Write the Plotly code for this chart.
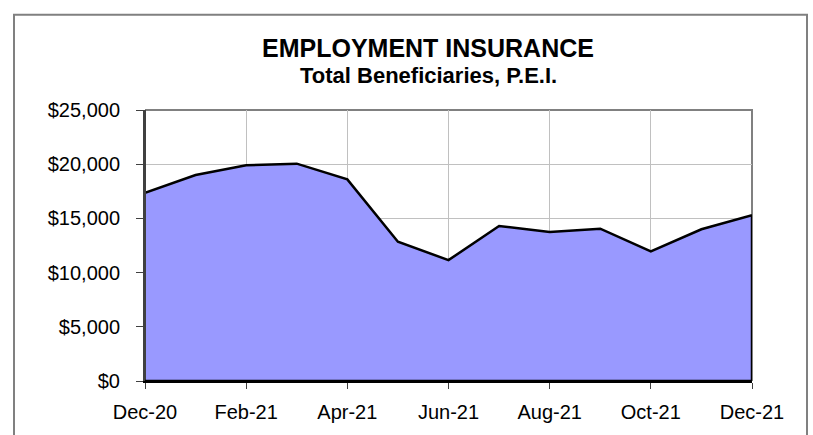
import plotly.graph_objects as go

months = ["Dec-20", "Jan-21", "Feb-21", "Mar-21", "Apr-21", "May-21", "Jun-21",
          "Jul-21", "Aug-21", "Sep-21", "Oct-21", "Nov-21", "Dec-21"]
beneficiaries = [17350, 19000, 19900, 20050, 18600, 12850, 11150,
                 14300, 13750, 14050, 11950, 14000, 15300]
y_ticks = [0, 5000, 10000, 15000, 20000, 25000]
y_tick_labels = ["$0", "$5,000", "$10,000", "$15,000", "$20,000", "$25,000"]

title_text = "EMPLOYMENT INSURANCE"
subtitle_text = "Total Beneficiaries, P.E.I."

xs = list(range(len(months)))
tick_idx = xs[::2]
tick_txt = [months[i] for i in tick_idx]

W, H = 813, 435
L, R, T, B = 145, 61, 110, 49
pw, ph = W - L - R, H - T - B


def px(x):
    return (x - L) / pw


def py(y):
    return (H - B - y) / ph


FONT = "Arial, Liberation Sans, sans-serif"

fig = go.Figure()
fig.add_trace(go.Scatter(
    x=xs, y=beneficiaries, mode="lines", fill="tozeroy",
    fillcolor="#9999FF", line=dict(color="black", width=2.5),
    hoverinfo="x+y", showlegend=False,
))
# closing right edge of the area, from the last data point down to zero
fig.add_trace(go.Scatter(
    x=[xs[-1], xs[-1]], y=[0, beneficiaries[-1]], mode="lines",
    line=dict(color="black", width=2.5), hoverinfo="skip", showlegend=False,
))

fig.update_layout(
    width=W, height=H,
    margin=dict(l=L, r=R, t=T, b=B),
    paper_bgcolor="white", plot_bgcolor="white",
    font=dict(family=FONT, color="black", size=20),
    showlegend=False,
    xaxis=dict(
        range=[0, len(months) - 1], tickmode="array",
        tickvals=tick_idx, ticktext=tick_txt,
        showgrid=True, gridcolor="#c0c0c0", gridwidth=1,
        showline=True, linecolor="black", linewidth=2,
        ticks="outside", ticklen=6, tickcolor="#404040", tickwidth=1,
        ticklabelstandoff=6, layer="above traces",
        zeroline=False, fixedrange=True,
        tickfont=dict(size=20, family=FONT, color="black"),
    ),
    yaxis=dict(
        range=[0, 25000], tickmode="array", tickvals=y_ticks,
        ticktext=y_tick_labels,
        showgrid=True, gridcolor="#c0c0c0", gridwidth=1,
        showline=True, linecolor="#404040", linewidth=2,
        ticks="outside", ticklen=7, tickcolor="#404040", tickwidth=1,
        ticklabelstandoff=12, layer="above traces",
        zeroline=False, fixedrange=True,
        tickfont=dict(size=20, family=FONT, color="black"),
    ),
    shapes=[
        # plot area frame: top & right edges in grey
        dict(type="path", xref="paper", yref="paper",
             path="M 0,1 L 1,1 L 1,0",
             line=dict(color="#808080", width=2), layer="between"),
        # left axis line drawn over the filled area
        dict(type="line", xref="paper", yref="paper", x0=0, x1=0, y0=0, y1=1,
             line=dict(color="#404040", width=2), layer="above"),
        # bottom axis line drawn over the filled area
        dict(type="line", xref="paper", yref="paper", x0=0, x1=1, y0=0, y1=0,
             line=dict(color="black", width=2.5), layer="above"),
        # outer chart border
        dict(type="rect", xref="paper", yref="paper",
             x0=px(14), x1=px(807), y0=py(445), y1=py(13),
             line=dict(color="#808080", width=2), layer="above"),
    ],
    annotations=[
        dict(text="<b>" + title_text + "</b>", xref="paper", yref="paper",
             x=px(428), y=py(47), xanchor="center", yanchor="middle",
             showarrow=False, font=dict(size=25, family=FONT, color="black")),
        dict(text="<b>" + subtitle_text + "</b>", xref="paper", yref="paper",
             x=px(428), y=py(75), xanchor="center", yanchor="middle",
             showarrow=False, font=dict(size=22, family=FONT, color="black")),
    ],
)

fig.write_html("out.html", config=dict(displayModeBar=False),
               post_script="document.body.style.margin='0';document.body.style.overflow='hidden';")
